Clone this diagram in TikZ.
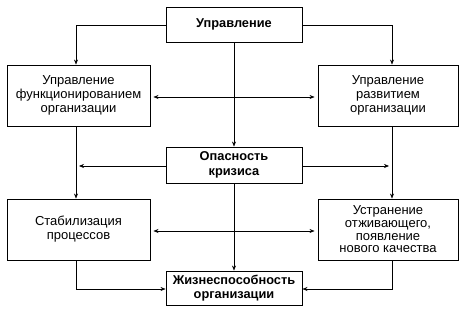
\documentclass[tikz,border=0pt]{standalone}
\usepackage{fontspec}
\setmainfont{Liberation Sans}
\usetikzlibrary{arrows.meta}
\begin{document}
\begin{tikzpicture}[x=1pt,y=-1pt,
  box/.style={draw,line width=0.9pt,align=center,inner sep=0pt,font=\fontsize{13}{14}\selectfont},
  bbox/.style={box,font=\fontsize{12.8}{14.5}\selectfont\bfseries},
  conn/.style={line width=0.6pt,-{Stealth[length=5pt,width=4pt]}},
  dconn/.style={line width=0.6pt,{Stealth[length=5pt,width=4pt]}-{Stealth[length=5pt,width=4pt]}}]
\useasboundingbox (0,0) rectangle (465,310);
\node[bbox,minimum width=136pt,minimum height=35pt] (top) at (234,24.5) {Управление};
\node[box,minimum width=143pt,minimum height=61pt] (l1) at (78.5,95.5) {Управление\\функционированием\\организации};
\node[box,minimum width=140pt,minimum height=61pt] (r1) at (388,95.5) {Управление\\развитием\\организации};
\node[bbox,minimum width=136pt,minimum height=36pt] (mid) at (234,165) {Опасность\\кризиса};
\node[box,minimum width=143pt,minimum height=61pt] (l2) at (78.5,229.5) {Стабилизация\\процессов};
\node[box,minimum width=140pt,minimum height=61pt,font=\fontsize{13}{12.7}\selectfont] (r2) at (388,229.5) {Устранение\\отживающего,\\появление\\нового качества};
\node[bbox,minimum width=136pt,minimum height=34pt] (bot) at (234,288) {Жизнеспособность\\организации};
\coordinate (tl) at (76,25);
\coordinate (tr) at (392,25);
\coordinate (bl) at (76,289);
\coordinate (br) at (392,289);
\coordinate (ml) at (76,166);
\coordinate (mr) at (392,166);
\draw[conn] (top.west |- tl) -- (tl) -- (tl |- l1.north);
\draw[conn] (top.east |- tr) -- (tr) -- (tr |- r1.north);
\draw[conn] (top.south) -- (mid.north);
\draw[dconn] ([xshift=3pt]l1.east |- 0,97) -- ([xshift=-3pt]r1.west |- 0,97);
\draw[conn] (tl |- l1.south) -- (tl |- l2.north);
\draw[conn] (tr |- r1.south) -- (tr |- r2.north);
\draw[conn] (mid.west |- ml) -- ([xshift=3pt]ml);
\draw[conn] (mid.east |- mr) -- ([xshift=-3pt]mr);
\draw[conn] (mid.south) -- (bot.north);
\draw[dconn] ([xshift=3pt]l2.east |- 0,231) -- ([xshift=-3pt]r2.west |- 0,231);
\draw[conn] (bl |- l2.south) -- (bl) -- (bot.west |- bl);
\draw[conn] (br |- r2.south) -- (br) -- (bot.east |- br);
\end{tikzpicture}
\end{document}
